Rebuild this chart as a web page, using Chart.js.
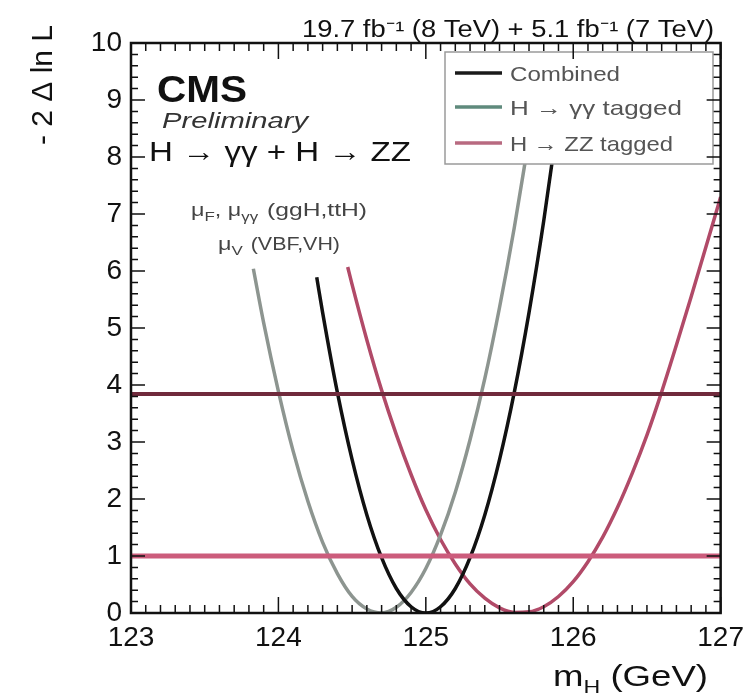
<!DOCTYPE html>
<html><head><meta charset="utf-8">
<script src="https://cdn.jsdelivr.net/npm/chart.js@4"></script>
<style>html,body{margin:0;padding:0;background:#fff}#wrap{width:752px;height:694px}</style>
</head><body><div id="wrap"><canvas id="c" width="752" height="694"></canvas></div>
<script>
// ---- data ----
const xRange = [123, 127];
const clLevels = [1, 3.84];

const combMass = [124.26,124.3,124.4,124.5,124.6,124.7,124.8,124.9,125.0,125.1,125.2,125.3,125.4,125.5,125.6,125.7,125.8,125.9];
const combNLL  = [5.89,5.27,3.87,2.69,1.72,0.97,0.43,0.11,0.00,0.11,0.43,0.97,1.72,2.69,3.87,5.27,6.88,8.71];

const gamMass = [123.83,123.9,124.0,124.1,124.2,124.3,124.4,124.5,124.6,124.7,124.8,124.9,125.0,125.1,125.2,125.3,125.4,125.5,125.6,125.7];
const gamNLL  = [6.04,5.09,3.89,2.84,1.96,1.24,0.69,0.29,0.07,0.00,0.10,0.36,0.78,1.37,2.12,3.04,4.11,5.36,6.76,8.33];

const zzMass = [124.47,124.5,124.6,124.7,124.8,124.9,125.0,125.1,125.2,125.3,125.4,125.5,125.6,125.7,125.8,125.9,126.0,126.1,126.2,126.3,126.4,126.5,126.6,126.7,126.8,126.9,127.0];
const zzNLL  = [6.07,5.76,4.79,3.91,3.13,2.43,1.81,1.29,0.86,0.51,0.26,0.09,0.01,0.02,0.11,0.29,0.55,0.90,1.33,1.85,2.45,3.12,3.88,4.70,5.55,6.42,7.30];

const seriesNames = ['Combined', 'H \u2192 \u03b3\u03b3 tagged', 'H \u2192 ZZ tagged'];
const xTicks = [123, 124, 125, 126, 127];
const yTicks = [0,1,2,3,4,5,6,7,8,9,10];

// ---- styles ----
const colComb = '#111111';
const colGam = '#8d9590';
const colZZ = '#b14a68';
const legendCols = ['#1a1a1a', '#5f8a7c', '#b86a80'];
const FONT = '"Liberation Sans", Arial, sans-serif';

function pts(xs, ys) { return xs.map((x, i) => ({x: x, y: ys[i]})); }

const datasets = [
  {label: '1', data: pts(xRange, [clLevels[0], clLevels[0]]), borderColor: 'rgb(204,92,124)', borderWidth: 5},
  {label: '3.84', data: pts(xRange, [clLevels[1], clLevels[1]]), borderColor: 'rgb(112,42,60)', borderWidth: 4},
  {label: seriesNames[0], data: pts(combMass, combNLL), borderColor: colComb, borderWidth: 3.5, cubicInterpolationMode: 'monotone'},
  {label: seriesNames[1], data: pts(gamMass, gamNLL), borderColor: colGam, borderWidth: 3.5, cubicInterpolationMode: 'monotone'},
  {label: seriesNames[2], data: pts(zzMass, zzNLL), borderColor: colZZ, borderWidth: 3.5, cubicInterpolationMode: 'monotone'}
];
datasets.forEach(d => { d.pointRadius = 0; d.fill = false; });

// draw text stretched horizontally to a target width
function fitText(ctx, text, x, y, font, width, align) {
  ctx.save();
  ctx.font = font;
  const w = ctx.measureText(text).width;
  const s = width / w;
  let x0 = x;
  if (align === 'right') x0 = x - width;
  else if (align === 'center') x0 = x - width / 2;
  ctx.translate(x0, y); ctx.scale(s, 1);
  ctx.textAlign = 'left';
  ctx.fillText(text, 0, 0);
  ctx.restore();
  return x0 + width;
}

const decor = {
  id: 'decor',
  afterDatasetsDraw(chart) {
    const ctx = chart.ctx, a = chart.chartArea;
    const xs = chart.scales.x, ys = chart.scales.y;
    ctx.save();
    ctx.textBaseline = 'alphabetic';
    // legend box (white, covers curves)
    const lx = 445, ly = 52, lw = 268, lh = 112;
    ctx.fillStyle = '#fff';
    ctx.fillRect(lx, ly, lw, lh);
    ctx.strokeStyle = '#9a9a9a'; ctx.lineWidth = 1.5;
    ctx.strokeRect(lx, ly, lw, lh);
    const rows = [73, 107, 143];
    const legW = [110, 172, 163];
    rows.forEach((yy, i) => {
      ctx.strokeStyle = legendCols[i]; ctx.lineWidth = 3.5;
      ctx.beginPath(); ctx.moveTo(455, yy); ctx.lineTo(502, yy); ctx.stroke();
      ctx.fillStyle = '#555';
      fitText(ctx, seriesNames[i], 510, yy + 8, '21px ' + FONT, legW[i], 'left');
    });
    // frame
    ctx.strokeStyle = '#111'; ctx.lineWidth = 2.5;
    ctx.strokeRect(a.left, a.top, a.right - a.left, a.bottom - a.top);
    // ticks
    ctx.lineWidth = 1.5;
    ctx.beginPath();
    for (let v = 0; v <= 50; v++) {
      const val = v * 0.2; const py = ys.getPixelForValue(val);
      const len = (v % 5 === 0) ? 14 : 7;
      ctx.moveTo(a.left, py); ctx.lineTo(a.left + len, py);
      ctx.moveTo(a.right, py); ctx.lineTo(a.right - len, py);
    }
    for (let v = 0; v <= 40; v++) {
      const val = 123 + v * 0.1; const px = xs.getPixelForValue(val);
      const len = (v % 10 === 0) ? 16 : 8;
      ctx.moveTo(px, a.bottom); ctx.lineTo(px, a.bottom - len);
      ctx.moveTo(px, a.top); ctx.lineTo(px, a.top + len);
    }
    ctx.stroke();

    ctx.fillStyle = '#111';
    // top luminosity text
    const lumi = '19.7 fb\u207b\u00b9 (8 TeV) + 5.1 fb\u207b\u00b9 (7 TeV)';
    fitText(ctx, lumi, 714, 37, '23px ' + FONT, 412, 'right');
    // CMS
    fitText(ctx, 'CMS', 157, 102, 'bold 37px ' + FONT, 90, 'left');
    ctx.fillStyle = '#333';
    fitText(ctx, 'Preliminary', 162, 128, 'italic 22px ' + FONT, 146, 'left');
    ctx.fillStyle = '#111';
    fitText(ctx, 'H \u2192 \u03b3\u03b3 + H \u2192 ZZ', 149, 161, '28px ' + FONT, 262, 'left');
    // small annotation lines
    function sub(base, s, x, y, size, sx) {
      ctx.save(); ctx.translate(x, y); ctx.scale(sx, 1);
      ctx.font = size + 'px ' + FONT; ctx.fillText(base, 0, 0);
      const w = ctx.measureText(base).width;
      ctx.font = Math.round(size * 0.7) + 'px ' + FONT; ctx.fillText(s, w, size * 0.3);
      const w2 = ctx.measureText(s).width;
      ctx.restore();
      return x + (w + w2) * sx;
    }
    ctx.fillStyle = '#444';
    const SX = 1.3;
    let x1 = sub('\u03bc', 'F', 191, 216, 18, SX);
    x1 = sub(', \u03bc', '\u03b3\u03b3', x1, 216, 18, SX);
    fitText(ctx, ' (ggH,ttH)', x1 + 2, 216, '18px ' + FONT, 367 - x1 - 2, 'left');
    let x2 = sub('\u03bc', 'V', 218, 250, 18, SX);
    fitText(ctx, ' (VBF,VH)', x2 + 2, 250, '18px ' + FONT, 340 - x2 - 2, 'left');
    // axis titles
    ctx.fillStyle = '#111';
    ctx.save();
    ctx.translate(553, 686); ctx.scale(1.22, 1);
    ctx.font = '30px ' + FONT; ctx.textAlign = 'left';
    ctx.fillText('m', 0, 0);
    let mw = ctx.measureText('m').width;
    ctx.font = '19px ' + FONT; ctx.fillText('H', mw, 7);
    mw += ctx.measureText('H').width;
    ctx.font = '30px ' + FONT; ctx.fillText(' (GeV)', mw, 0);
    ctx.restore();
    ctx.save();
    ctx.translate(52, 25); ctx.rotate(-Math.PI / 2);
    ctx.textAlign = 'right'; ctx.font = '30px ' + FONT;
    ctx.fillText('- 2 \u0394 ln L', 0, 0);
    ctx.restore();
    ctx.restore();
  }
};

new Chart(document.getElementById('c'), {
  type: 'line',
  data: {datasets: datasets},
  options: {
    responsive: false, animation: false, devicePixelRatio: 1,
    layout: {padding: {top: 43, right: 30, left: 0, bottom: 0}},
    plugins: {legend: {display: false}, tooltip: {enabled: false}},
    scales: {
      x: {type: 'linear', min: xRange[0], max: xRange[1],
          afterFit(s) { s.height = 81; },
          afterBuildTicks(s) { s.ticks = xTicks.map(v => ({value: v})); },
          grid: {display: false, drawTicks: false}, border: {display: false},
          ticks: {font: {family: FONT, size: 28}, color: '#111', padding: 8, maxRotation: 0, autoSkip: false}},
      y: {type: 'linear', min: 0, max: 10,
          afterFit(s) { s.width = 131; },
          afterBuildTicks(s) { s.ticks = yTicks.map(v => ({value: v})); },
          grid: {display: false, drawTicks: false}, border: {display: false},
          ticks: {font: {family: FONT, size: 28}, color: '#111', padding: 9, autoSkip: false}}
    }
  },
  plugins: [decor]
});
</script>
</body></html>
